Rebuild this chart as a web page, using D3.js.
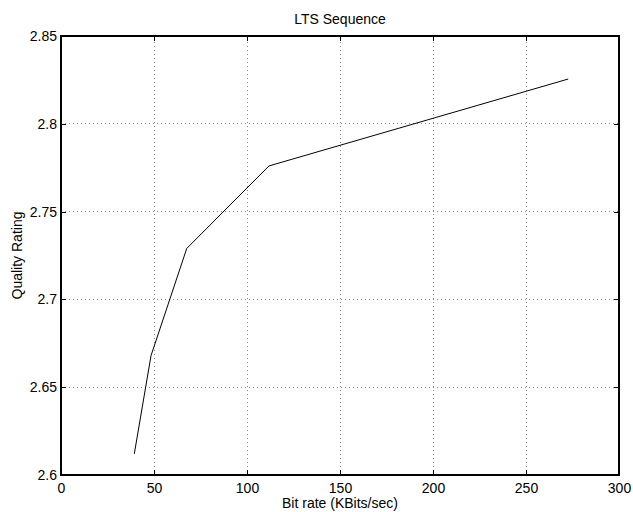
<!DOCTYPE html>
<html><head><meta charset="utf-8">
<script src="https://cdn.jsdelivr.net/npm/d3@7"></script>
<style>body{margin:0;background:#fff}svg{display:block}text{font-family:"Liberation Sans",Arial,Helvetica,sans-serif;fill:#000}</style>
</head><body>
<script>
const bitRate = [39.4, 48.4, 67.6, 111.8, 272.7];
const quality = [2.612, 2.668, 2.729, 2.776, 2.8255];
const xTicks = [0, 50, 100, 150, 200, 250, 300];
const yTicks = [2.6, 2.65, 2.7, 2.75, 2.8, 2.85];
const title = "LTS Sequence", xLabel = "Bit rate (KBits/sec)", yLabel = "Quality Rating";

const W = 633, H = 512, m = {l: 61, r: 14, t: 36, b: 37};
const svg = d3.select("body").append("svg").attr("width", W).attr("height", H);
const x = d3.scaleLinear().domain([0, 300]).range([m.l, W - m.r]);
const y = d3.scaleLinear().domain([2.6, 2.85]).range([H - m.b, m.t]);
const g = svg.append("g");

// grid
g.selectAll(".gx").data(xTicks.slice(1, -1)).join("line")
  .attr("x1", d => x(d)).attr("x2", d => x(d)).attr("y1", y(2.6)).attr("y2", y(2.85))
  .attr("stroke", "#888").attr("stroke-dasharray", "1,3").attr("shape-rendering", "crispEdges");
g.selectAll(".gy").data(yTicks.slice(1, -1)).join("line")
  .attr("x1", x(0)).attr("x2", x(300)).attr("y1", d => y(d)).attr("y2", d => y(d))
  .attr("stroke", "#888").attr("stroke-dasharray", "1,3").attr("shape-rendering", "crispEdges");

// axes
const fmtY = d => d3.format("")(+d.toFixed(2));
const ax = (sel) => { sel.select(".domain").remove(); sel.selectAll("text").style("font-size", "14px"); sel.selectAll("line").attr("shape-rendering", "crispEdges"); };
svg.append("g").attr("transform", `translate(0,${y(2.6)})`)
  .call(d3.axisBottom(x).tickValues(xTicks).tickSize(-5).tickPadding(8)).call(ax);
svg.append("g").attr("transform", `translate(${x(0)},0)`)
  .call(d3.axisLeft(y).tickValues(yTicks).tickFormat(fmtY).tickSize(-5).tickPadding(4)).call(ax);
svg.append("g").attr("transform", `translate(0,${y(2.85)})`)
  .call(d3.axisTop(x).tickValues(xTicks).tickSize(-5).tickFormat("")).call(ax);
svg.append("g").attr("transform", `translate(${x(300)},0)`)
  .call(d3.axisRight(y).tickValues(yTicks).tickSize(-5).tickFormat("")).call(ax);

svg.append("rect").attr("x", x(0)).attr("y", y(2.85)).attr("width", x(300) - x(0)).attr("height", y(2.6) - y(2.85))
  .attr("fill", "none").attr("stroke", "#000").attr("stroke-width", 1.3).attr("shape-rendering", "crispEdges");

// line
const data = bitRate.map((b, i) => [b, quality[i]]);
svg.append("path").datum(data).attr("fill", "none").attr("stroke", "#000").attr("stroke-width", 1)
  .attr("d", d3.line().x(d => x(d[0])).y(d => y(d[1])));

// labels
svg.append("text").attr("x", (x(0) + x(300)) / 2).attr("y", 24).attr("text-anchor", "middle").style("font-size", "14px").text(title);
svg.append("text").attr("x", (x(0) + x(300)) / 2).attr("y", 508).attr("text-anchor", "middle").style("font-size", "14px").text(xLabel);
svg.append("text").attr("transform", `translate(22,${(y(2.6) + y(2.85)) / 2}) rotate(-90)`).attr("text-anchor", "middle").style("font-size", "14px").text(yLabel);
</script>
</body></html>
